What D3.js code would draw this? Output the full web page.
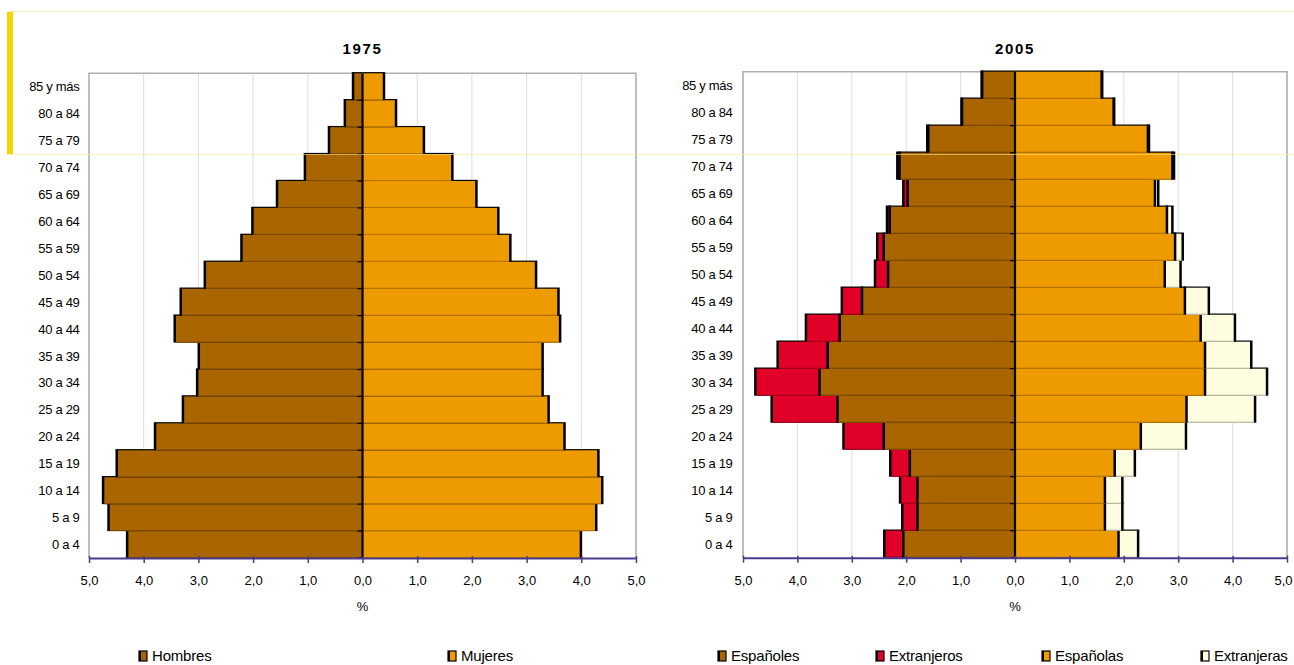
<!DOCTYPE html>
<html>
<head>
<meta charset="utf-8">
<script src="https://cdn.jsdelivr.net/npm/d3@7"></script>
<style>
  html, body { margin: 0; padding: 0; background: #fff; }
  svg { display: block; }
  text { font-family: Arial, "Liberation Sans", sans-serif; fill: #000; }
</style>
</head>
<body>
<svg id="chart" width="1294" height="665"></svg>
<script>
// ---------------- DATA ----------------
const categories = ["0 a 4","5 a 9","10 a 14","15 a 19","20 a 24","25 a 29","30 a 34","35 a 39","40 a 44","45 a 49","50 a 54","55 a 59","60 a 64","65 a 69","70 a 74","75 a 79","80 a 84","85 y más"];

const hombres1975 = [4.28,4.62,4.72,4.47,3.77,3.26,3.00,2.97,3.41,3.30,2.86,2.19,1.99,1.54,1.03,0.59,0.30,0.15];
const mujeres1975 = [3.97,4.25,4.36,4.29,3.67,3.38,3.27,3.27,3.59,3.56,3.15,2.68,2.46,2.06,1.62,1.10,0.59,0.37];

const espanoles2005   = [2.03,1.77,1.77,1.91,2.39,3.24,3.57,3.42,3.20,2.79,2.31,2.39,2.28,1.95,2.10,1.57,0.95,0.58];
const extranjeros2005 = [0.35,0.28,0.32,0.36,0.74,1.21,1.18,0.92,0.62,0.37,0.24,0.12,0.05,0.08,0.04,0.02,0.01,0.01];
const espanolas2005   = [1.88,1.63,1.63,1.81,2.29,3.13,3.47,3.47,3.39,3.10,2.73,2.92,2.77,2.55,2.87,2.42,1.79,1.57];
const extranjeras2005 = [0.36,0.32,0.32,0.37,0.83,1.26,1.14,0.85,0.63,0.44,0.29,0.14,0.10,0.06,0.03,0.02,0.01,0.01];

const tickValues = [-5,-4,-3,-2,-1,0,1,2,3,4,5];
const tickLabels = ["5,0","4,0","3,0","2,0","1,0","0,0","1,0","2,0","3,0","4,0","5,0"];

const titles = ["1975","2005"];
const axisTitle = "%";
const legend1975 = ["Hombres","Mujeres"];
const legend2005 = ["Españoles","Extranjeros","Españolas","Extranjeras"];

// ---------------- STYLE ----------------
const C = {
  brown: "#a96500", brownLine: "#7d4a00",
  orange: "#ee9b00", orangeLine: "#b87400",
  red: "#e00028", redLine: "#a0001c",
  cream: "#fffde0", creamLine: "#b8b8a0",
  grid: "#dddddd", border: "#b0b0b0", axis: "#4a3a8c"
};

const svg = d3.select("#chart");

// decorative frame elements
svg.append("rect").attr("x", 7).attr("y", 12).attr("width", 6).attr("height", 142).attr("fill", "#f7d500");
svg.append("line").attr("x1", 7).attr("x2", 1294).attr("y1", 11.5).attr("y2", 11.5)
  .attr("stroke", "#fbf0b8").attr("stroke-width", 1);

function drawPyramid(cfg) {
  const g = svg.append("g");
  const x = d3.scaleLinear().domain([-5, 5]).range([cfg.x0, cfg.x1]);
  const y = d3.scaleBand().domain(categories.slice().reverse()).range([cfg.y0, cfg.y1]).paddingInner(0).paddingOuter(0);
  const zero = x(0);

  // gridlines
  g.append("g").selectAll("line").data(tickValues.filter(d => d !== 0 && Math.abs(d) !== 5)).join("line")
    .attr("x1", d => x(d)).attr("x2", d => x(d))
    .attr("y1", cfg.y0).attr("y2", cfg.y1)
    .attr("stroke", C.grid).attr("stroke-width", 1);

  // border (top, left, right)
  g.append("path")
    .attr("d", `M${x(-5)},${cfg.y1}V${cfg.y0}H${x(5)}V${cfg.y1}`)
    .attr("fill", "none").attr("stroke", C.border).attr("stroke-width", 1.6);

  const bh = y.bandwidth();
  // bars: bottom row first so upper rows cover the top edge of the row below
  categories.forEach((cat, i) => {
    const top = y(cat);
    cfg.segments(i).forEach(seg => {
      const xa = x(seg.from), xb = x(seg.to);   // xb is outer edge
      const left = Math.min(xa, xb), w = Math.abs(xb - xa);
      if (w <= 0) return;
      const outerLeft = xb < xa;
      g.append("rect")
        .attr("x", outerLeft ? left - 2.5 : left)
        .attr("y", top - 1.2)
        .attr("width", w + 2.5)
        .attr("height", bh + 1.2)
        .attr("fill", "#000");
      g.append("rect")
        .attr("x", left).attr("y", top)
        .attr("width", w).attr("height", bh)
        .attr("fill", seg.color);
      g.append("line")
        .attr("x1", left).attr("x2", left + w)
        .attr("y1", top + bh - 0.5).attr("y2", top + bh - 0.5)
        .attr("stroke", seg.line).attr("stroke-width", 1);
    });
  });

  // central axis with ticks at band boundaries
  g.append("line").attr("x1", zero).attr("x2", zero).attr("y1", cfg.y0).attr("y2", cfg.y1)
    .attr("stroke", "#000").attr("stroke-width", 2.2);
  g.append("g").selectAll("line").data(categories).join("line")
    .attr("x1", zero - 5).attr("x2", zero)
    .attr("y1", d => y(d) + bh).attr("y2", d => y(d) + bh)
    .attr("stroke", "#000").attr("stroke-width", 1.2);

  // category labels
  g.append("g").selectAll("text").data(categories).join("text")
    .attr("x", cfg.labelX).attr("y", d => y(d) + bh / 2 + 4.5)
    .attr("text-anchor", "end").attr("font-size", 13).attr("letter-spacing", -0.3)
    .text(d => d);

  // bottom axis
  const xAxis = d3.axisBottom(x).tickValues(tickValues).tickSize(5).tickSizeOuter(0)
    .tickFormat((d, i) => tickLabels[i]);
  const ax = g.append("g").attr("transform", `translate(0,${cfg.y1})`).call(xAxis);
  ax.select(".domain").attr("stroke", C.axis).attr("stroke-width", 2);
  ax.selectAll(".tick line").attr("stroke", C.axis).attr("stroke-width", 1.5).attr("y1", -2);
  ax.selectAll(".tick text").attr("y", 18).attr("dy", "0.71em").attr("font-size", 13)
    .attr("font-family", "Arial, 'Liberation Sans', sans-serif").attr("fill", "#000")
    .attr("dx", (d, i) => (cfg.lastShift && i === tickValues.length - 1) ? cfg.lastShift : 0);

  // axis title
  g.append("text").attr("x", zero).attr("y", 611).attr("text-anchor", "middle").attr("font-size", 13).text(axisTitle);

  // chart title
  g.append("text").attr("x", zero).attr("y", 54).attr("text-anchor", "middle")
    .attr("font-size", 15).attr("font-weight", "bold").attr("letter-spacing", 1.6)
    .text(cfg.title);

  // legend
  const lg = g.append("g");
  cfg.legend.forEach(item => {
    lg.append("rect").attr("x", item.x).attr("y", 651).attr("width", 8).attr("height", 10)
      .attr("fill", item.color).attr("stroke", "#000").attr("stroke-width", 1.2);
    lg.append("line").attr("x1", item.x + 1).attr("x2", item.x + 1).attr("y1", 651).attr("y2", 661)
      .attr("stroke", "#000").attr("stroke-width", 2);
    lg.append("text").attr("x", item.x + 13).attr("y", 661).attr("font-size", 15).attr("letter-spacing", -0.2)
      .text(item.label);
  });
}

drawPyramid({
  x0: 89, x1: 636, y0: 73.3, y1: 558, labelX: 79.5, title: titles[0],
  segments: i => [
    { from: 0, to: -hombres1975[i], color: C.brown, line: C.brownLine },
    { from: 0, to: mujeres1975[i], color: C.orange, line: C.orangeLine }
  ],
  legend: [
    { x: 139, label: legend1975[0], color: C.brown },
    { x: 448, label: legend1975[1], color: C.orange }
  ]
});

drawPyramid({
  x0: 743, x1: 1287, y0: 71.7, y1: 557.7, labelX: 732.5, title: titles[1], lastShift: -4,
  segments: i => [
    { from: -espanoles2005[i], to: -(espanoles2005[i] + extranjeros2005[i]), color: C.red, line: C.redLine },
    { from: 0, to: -espanoles2005[i], color: C.brown, line: C.brownLine },
    { from: espanolas2005[i], to: espanolas2005[i] + extranjeras2005[i], color: C.cream, line: C.creamLine },
    { from: 0, to: espanolas2005[i], color: C.orange, line: C.orangeLine }
  ],
  legend: [
    { x: 718, label: legend2005[0], color: C.brown },
    { x: 876, label: legend2005[1], color: C.red },
    { x: 1042, label: legend2005[2], color: C.orange },
    { x: 1201, label: legend2005[3], color: C.cream }
  ]
});

// faint yellow guide line across the page
svg.append("line").attr("x1", 7).attr("x2", 1294).attr("y1", 154.5).attr("y2", 154.5)
  .attr("stroke", "#ffe680").attr("stroke-opacity", 0.6).attr("stroke-width", 1);
</script>
</body>
</html>
